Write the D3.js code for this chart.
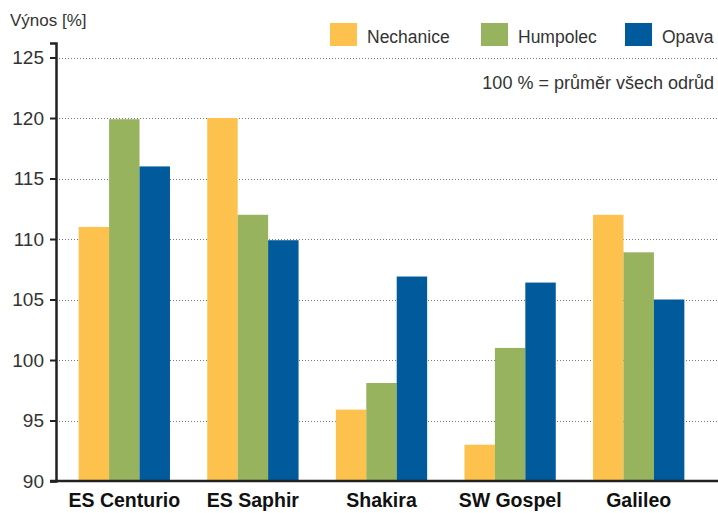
<html>
<head>
  <script src="https://d3js.org/d3.v7.min.js"></script>
  <style>
    body { margin: 0; padding: 0; background: white; overflow: hidden; }
    svg { display: block; font-family: "Liberation Sans", Arial, sans-serif; }
  </style>
</head>
<body>
  <svg width="718" height="513"></svg>
  <script>
    const varieties = ["ES Centurio", "ES Saphir", "Shakira", "SW Gospel", "Galileo"];
    const sites = ["Nechanice", "Humpolec", "Opava"];
    const nechanice = [111, 120, 95.9, 93, 112];
    const humpolec = [119.9, 112, 98.1, 101, 108.9];
    const opava = [116, 109.9, 106.9, 106.4, 105];
    const yTicks = [90, 95, 100, 105, 110, 115, 120, 125];
    const colors = ["#fdc24e", "#97b35e", "#005a9c"];

    const series = [nechanice, humpolec, opava];
    const data = varieties.map((v, i) => ({
      variety: v,
      values: sites.map((s, j) => ({ site: s, value: series[j][i] }))
    }));

    const svg = d3.select("svg");
    const axisX = 56, baseY = 481;

    const y = d3.scaleLinear().domain([90, 126.2]).range([baseY, 43]);
    const x0 = d3.scaleBand().domain(varieties).range([60, 703])
        .paddingInner(0.29).paddingOuter(0.145);
    const x1 = d3.scaleBand().domain(sites).range([0, x0.bandwidth()]);

    // Gridlines
    svg.append("g")
      .selectAll("line")
      .data(yTicks)
      .enter().append("line")
      .attr("x1", axisX)
      .attr("x2", 718)
      .attr("y1", d => Math.round(y(d)) + 0.5)
      .attr("y2", d => Math.round(y(d)) + 0.5)
      .attr("stroke", "#777")
      .attr("stroke-width", 1)
      .attr("stroke-dasharray", "1,2");

    // Bars
    svg.append("g")
      .selectAll("g")
      .data(data)
      .enter().append("g")
      .attr("transform", d => "translate(" + x0(d.variety) + ",0)")
      .selectAll("rect")
      .data(d => d.values)
      .enter().append("rect")
      .attr("x", d => x1(d.site))
      .attr("width", x1.bandwidth())
      .attr("y", d => y(d.value))
      .attr("height", d => baseY - y(d.value))
      .attr("fill", (d, i) => colors[i]);

    // Y axis
    const yAxis = d3.axisLeft(y).tickValues(yTicks).tickSize(6).tickPadding(6);
    const gy = svg.append("g")
      .attr("transform", "translate(" + axisX + ",0)")
      .call(yAxis);
    gy.select(".domain").attr("stroke", "#222").attr("stroke-width", 2.5);
    gy.selectAll(".tick line").attr("stroke", "#222").attr("stroke-width", 2);
    gy.selectAll(".tick text")
      .attr("font-size", 19)
      .attr("fill", "#333")
      .attr("font-family", "Liberation Sans, Arial, sans-serif");

    // X baseline
    svg.append("line")
      .attr("x1", axisX - 6).attr("x2", 718)
      .attr("y1", baseY).attr("y2", baseY)
      .attr("stroke", "#222").attr("stroke-width", 2.5);

    // X labels
    svg.append("g")
      .selectAll("text")
      .data(varieties)
      .enter().append("text")
      .attr("x", d => x0(d) + x0.bandwidth() / 2)
      .attr("y", 507)
      .attr("text-anchor", "middle")
      .attr("font-size", 19.5)
      .attr("font-weight", "bold")
      .attr("fill", "#111")
      .text(d => d);

    // Y title
    svg.append("text")
      .attr("x", 10).attr("y", 26)
      .attr("font-size", 17)
      .attr("fill", "#333")
      .text("Výnos [%]");

    // Legend
    const legendX = [330, 481, 625];
    const lg = svg.append("g")
      .selectAll("g")
      .data(sites)
      .enter().append("g")
      .attr("transform", (d, i) => "translate(" + legendX[i] + ",23)");
    lg.append("rect")
      .attr("width", 27).attr("height", 23)
      .attr("fill", (d, i) => colors[i]);
    lg.append("text")
      .attr("x", 37).attr("y", 20)
      .attr("font-size", 17.5)
      .attr("fill", "#333")
      .text(d => d);

    // Note
    svg.append("text")
      .attr("x", 714).attr("y", 89)
      .attr("text-anchor", "end")
      .attr("font-size", 18)
      .attr("fill", "#333")
      .text("100 % = průměr všech odrůd");
  </script>
</body>
</html>
